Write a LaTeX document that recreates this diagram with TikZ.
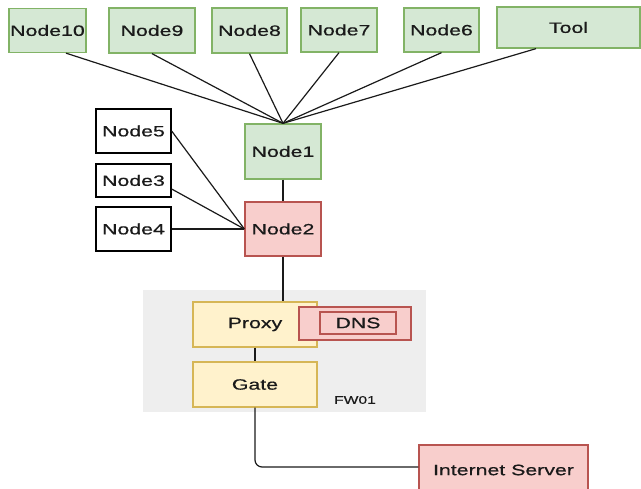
\documentclass[tikz,border=0pt]{standalone}
\usepackage{fontspec}
\setmainfont{Liberation Sans}[FakeStretch=1.42, FakeBold=0.6]
\definecolor{gfill}{HTML}{D5E8D4}
\definecolor{gline}{HTML}{82B366}
\definecolor{rfill}{HTML}{F8CECC}
\definecolor{rline}{HTML}{B85450}
\definecolor{yfill}{HTML}{FFF2CC}
\definecolor{yline}{HTML}{D6B656}
\definecolor{zone}{HTML}{EEEEEE}
\definecolor{ink}{HTML}{1A1A1A}
\tikzset{
  box/.style={draw, line width=1.3pt, inner sep=0pt, text=ink,
    font=\fontsize{15}{18}\selectfont},
  greenbox/.style={box, draw=gline, fill=gfill},
  redbox/.style={box, draw=rline, fill=rfill},
  yellowbox/.style={box, draw=yline, fill=yfill},
  plainbox/.style={box, draw=black, fill=white},
  link/.style={draw=ink, line width=1.2pt},
}
\begin{document}
\begin{tikzpicture}[x=1pt, y=-1pt]
\useasboundingbox (0,0) rectangle (641,489);

% firewall zone
\fill[zone] (143,290) rectangle (426,412);
\node[text=ink, font=\fontsize{11}{13}\selectfont] (fwlabel) at (355,400) {FW01};

% top row
\node[greenbox, minimum width=77pt, minimum height=44pt] (n10) at (47.5,30.5) {Node10};
\node[greenbox, minimum width=86pt, minimum height=45pt] (n9) at (152,30.5) {Node9};
\node[greenbox, minimum width=75pt, minimum height=45pt] (n8) at (249.5,30.5) {Node8};
\node[greenbox, minimum width=76pt, minimum height=44pt] (n7) at (339,30) {Node7};
\node[greenbox, minimum width=75pt, minimum height=44pt] (n6) at (441.5,30) {Node6};
\node[greenbox, minimum width=143pt, minimum height=41pt] (tool) at (568.5,27.5) {Tool};

% middle
\node[greenbox, minimum width=76pt, minimum height=55pt] (n1) at (283,151.5) {Node1};
\node[redbox, minimum width=76pt, minimum height=54pt] (n2) at (283,229) {Node2};
\node[plainbox, minimum width=75pt, minimum height=44pt] (n5) at (133.5,131) {Node5};
\node[plainbox, minimum width=75pt, minimum height=33pt] (n3) at (133.5,180.5) {Node3};
\node[plainbox, minimum width=75pt, minimum height=44pt] (n4) at (133.5,229) {Node4};

% firewall contents
\node[yellowbox, minimum width=124pt, minimum height=45pt] (proxy) at (255,324.5) {Proxy};
\node[redbox, minimum width=112pt, minimum height=33pt] (dnsout) at (355,323.5) {};
\node[redbox, minimum width=76pt, minimum height=22pt] (dns) at (358,323) {DNS};
\node[yellowbox, minimum width=124pt, minimum height=45pt] (gate) at (255,384.5) {Gate};

% internet server, running past the lower edge
\node[redbox, minimum width=169pt, minimum height=50pt] (inet) at (503.5,470) {Internet Server};

% connectors
\draw[link] ([xshift=18.5pt]n10.south) -- (n1.north);
\draw[link] (n9.south) -- (n1.north);
\draw[link] (n8.south) -- (n1.north);
\draw[link] (n7.south) -- (n1.north);
\draw[link] (n6.south) -- (n1.north);
\draw[link] ([xshift=-32.5pt]tool.south) -- (n1.north);
\draw[link] (n1.south) -- (n2.north);
\draw[link] (n5.east) -- (n2.west);
\draw[link] ([yshift=-8.5pt]n3.east) -- (n2.west);
\draw[link] (n4.east) -- (n2.west);
\draw[link] (n2.south) -- (n2.south |- proxy.north);
\draw[link] (proxy.south) -- (gate.north);
\draw[link, rounded corners=7pt] (gate.south) |- ([yshift=3pt]inet.west);
\end{tikzpicture}
\end{document}
